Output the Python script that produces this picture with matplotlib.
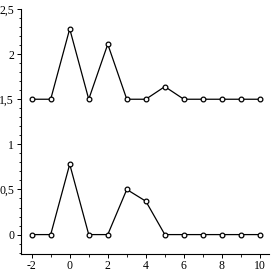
import matplotlib
matplotlib.use("Agg")
import matplotlib.pyplot as plt
from matplotlib.ticker import FuncFormatter, MultipleLocator

# data
x = [-2, -1, 0, 1, 2, 3, 4, 5, 6, 7, 8, 9, 10]
upper = [1.5, 1.5, 2.28, 1.5, 2.11, 1.5, 1.5, 1.64, 1.5, 1.5, 1.5, 1.5, 1.5]
lower = [0, 0, 0.78, 0, 0, 0.5, 0.37, 0, 0, 0, 0, 0, 0]

plt.rcParams['font.family'] = ['Liberation Serif', 'DejaVu Serif']
plt.rcParams['axes.unicode_minus'] = False

fig = plt.figure(figsize=(2.73, 2.73), dpi=100)
ax = fig.add_axes([0.077, 0.068, 0.91, 0.899])

for y in (upper, lower):
    ax.plot(x, y, color='black', lw=0.9, marker='o', ms=3.4,
            mfc='white', mec='black', mew=0.9)

ax.set_xlim(-2.56, 10.5)
ax.set_ylim(-0.22, 2.5)

ax.spines['top'].set_visible(False)
ax.spines['right'].set_visible(False)
ax.spines['left'].set_linewidth(0.8)
ax.spines['bottom'].set_linewidth(0.8)

ax.xaxis.set_major_locator(MultipleLocator(2))
ax.xaxis.set_minor_locator(MultipleLocator(1))
ax.yaxis.set_major_locator(MultipleLocator(0.5))
ax.yaxis.set_minor_locator(MultipleLocator(0.1))

fmt = FuncFormatter(lambda v, p: ('%g' % v).replace('.', ','))
ax.xaxis.set_major_formatter(fmt)
ax.yaxis.set_major_formatter(fmt)

ax.tick_params(which='major', length=3, width=0.7, labelsize=8.5, pad=2)
ax.tick_params(axis='x', which='major', pad=0.8)
ax.tick_params(which='minor', length=1.8, width=0.6)

fig.savefig('out.png', dpi=100)
